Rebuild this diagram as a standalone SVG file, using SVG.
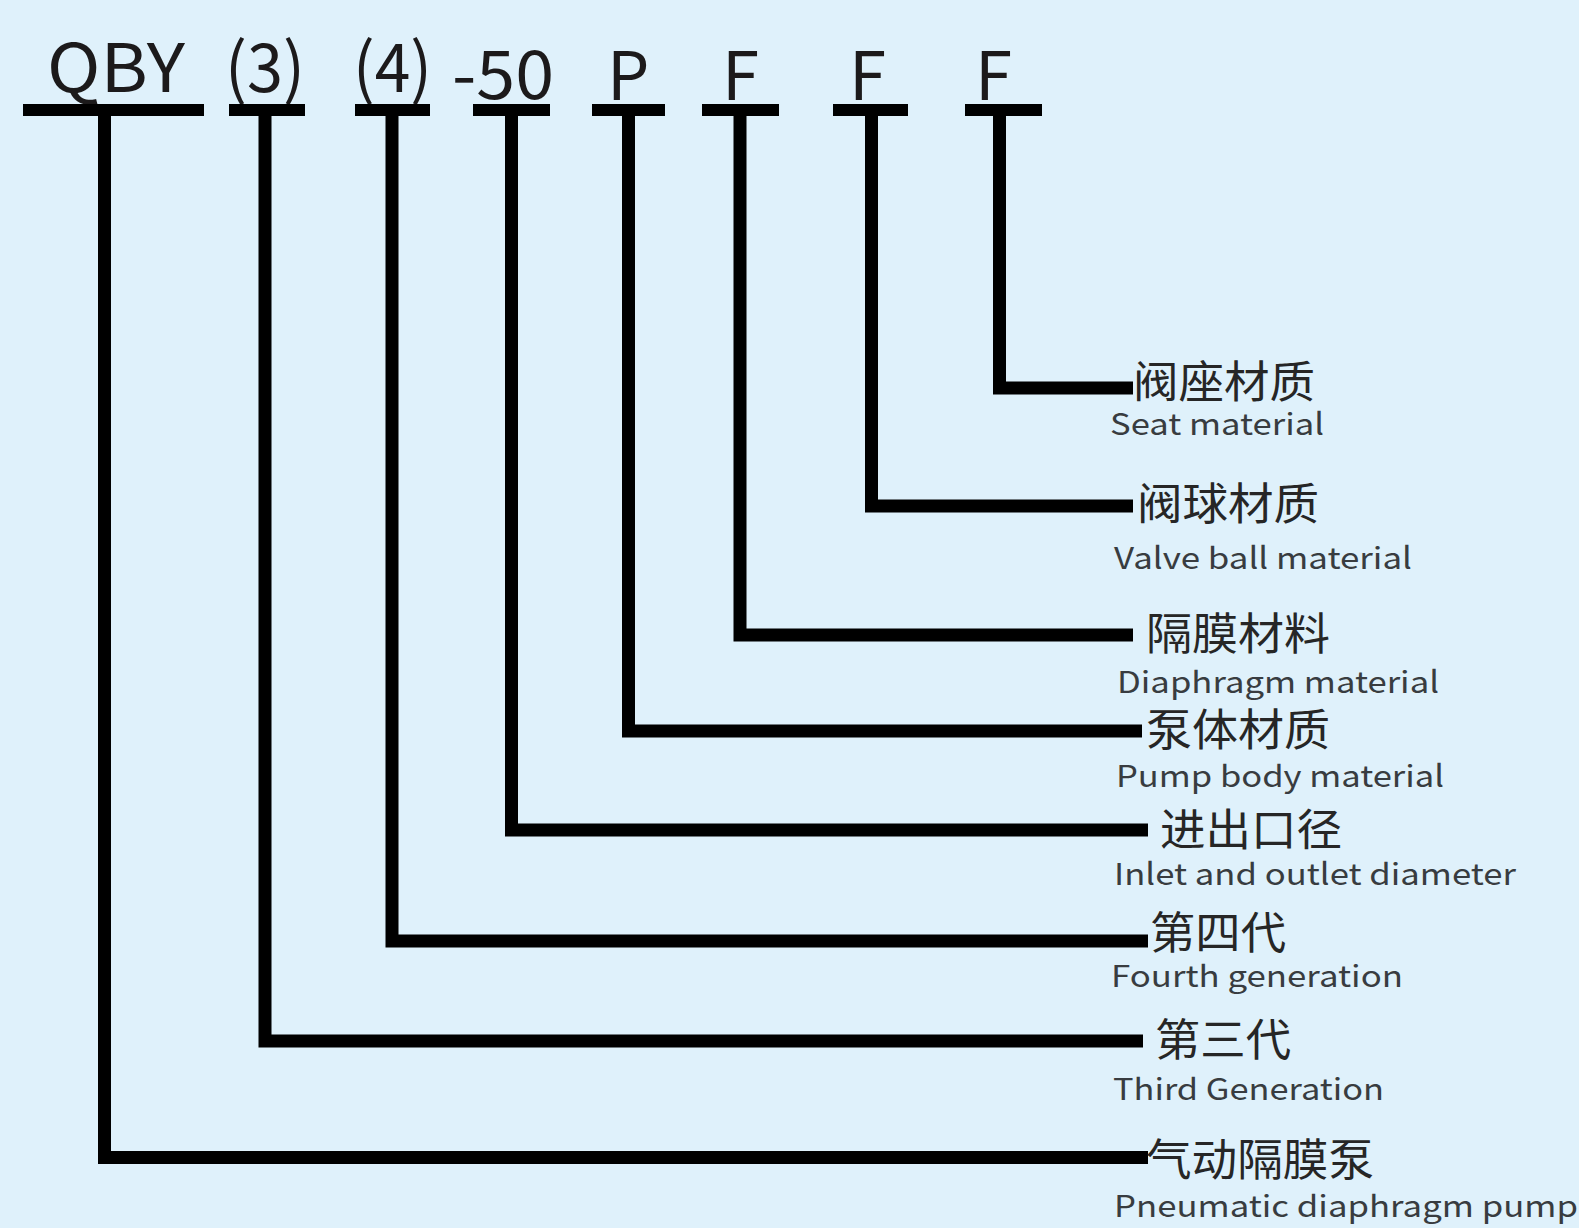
<svg xmlns="http://www.w3.org/2000/svg" width="1579" height="1228" viewBox="0 0 1579 1228">
<style>
.code{font-family:"Noto Sans CJK SC","Noto Sans",sans-serif;font-size:67px;fill:#1c1a1b}
.zh{font-family:"Noto Sans CJK SC","Noto Sans",sans-serif;font-size:44px;fill:#262626}
.en{font-family:"Noto Sans CJK SC","Noto Sans",sans-serif;font-size:30px;fill:#383c40}
.bar{fill:#000}
.conn{fill:none;stroke:#000;stroke-width:13;stroke-linejoin:miter;stroke-linecap:butt}
</style>
<rect width="1579" height="1228" fill="#dff1fb"/>
<g id="connectors">
<path class="conn" d="M104.5 110 V1157.5 H1148"/>
<path class="conn" d="M265 110 V1041 H1143"/>
<path class="conn" d="M392 110 V941 H1148"/>
<path class="conn" d="M511.5 110 V830 H1148"/>
<path class="conn" d="M628.5 110 V731 H1142"/>
<path class="conn" d="M740 110 V635 H1133"/>
<path class="conn" d="M871.5 110 V506 H1133"/>
<path class="conn" d="M999.5 110 V388 H1133"/>
</g>
<g id="code-QBY"><text class="code" x="47" y="92" textLength="138" lengthAdjust="spacingAndGlyphs">QBY</text><rect class="bar" x="23" y="104" width="181" height="12"/></g>
<g id="code-3"><text class="code" x="225" y="92" textLength="80" lengthAdjust="spacingAndGlyphs">(3)</text><rect class="bar" x="229" y="104" width="76" height="12"/></g>
<g id="code-4"><text class="code" x="353" y="92" textLength="79" lengthAdjust="spacingAndGlyphs">(4)</text><rect class="bar" x="355" y="104" width="75" height="12"/></g>
<g id="code-50"><text class="code" x="452" y="99" textLength="102" lengthAdjust="spacingAndGlyphs">-50</text><rect class="bar" x="473" y="104" width="77" height="12"/></g>
<g id="code-P"><text class="code" x="607" y="100">P</text><rect class="bar" x="592" y="104" width="73" height="12"/></g>
<g id="code-F1"><text class="code" x="722" y="100">F</text><rect class="bar" x="702" y="104" width="77" height="12"/></g>
<g id="code-F2"><text class="code" x="849" y="100">F</text><rect class="bar" x="833" y="104" width="75" height="12"/></g>
<g id="code-F3"><text class="code" x="975" y="100">F</text><rect class="bar" x="965" y="104" width="77" height="12"/></g>
<g id="label-seat"><text class="zh" x="1133" y="398" textLength="182" lengthAdjust="spacingAndGlyphs">阀座材质</text><text class="en" x="1110" y="435" textLength="214" lengthAdjust="spacingAndGlyphs">Seat material</text></g>
<g id="label-ball"><text class="zh" x="1137" y="520" textLength="182" lengthAdjust="spacingAndGlyphs">阀球材质</text><text class="en" x="1114" y="569" textLength="298" lengthAdjust="spacingAndGlyphs">Valve ball material</text></g>
<g id="label-diaphragm"><text class="zh" x="1146" y="650" textLength="184" lengthAdjust="spacingAndGlyphs">隔膜材料</text><text class="en" x="1117" y="693" textLength="322" lengthAdjust="spacingAndGlyphs">Diaphragm material</text></g>
<g id="label-body"><text class="zh" x="1146" y="746" textLength="184" lengthAdjust="spacingAndGlyphs">泵体材质</text><text class="en" x="1116" y="787" textLength="328" lengthAdjust="spacingAndGlyphs">Pump body material</text></g>
<g id="label-port"><text class="zh" x="1160" y="846" textLength="182" lengthAdjust="spacingAndGlyphs">进出口径</text><text class="en" x="1114" y="885" textLength="402" lengthAdjust="spacingAndGlyphs">Inlet and outlet diameter</text></g>
<g id="label-fourth"><text class="zh" x="1150" y="949" textLength="136" lengthAdjust="spacingAndGlyphs">第四代</text><text class="en" x="1111" y="987" textLength="292" lengthAdjust="spacingAndGlyphs">Fourth generation</text></g>
<g id="label-third"><text class="zh" x="1155" y="1056" textLength="136" lengthAdjust="spacingAndGlyphs">第三代</text><text class="en" x="1113" y="1100" textLength="271" lengthAdjust="spacingAndGlyphs">Third Generation</text></g>
<g id="label-pump"><text class="zh" x="1146" y="1176" textLength="228" lengthAdjust="spacingAndGlyphs">气动隔膜泵</text><text class="en" x="1114" y="1217" textLength="464" lengthAdjust="spacingAndGlyphs">Pneumatic diaphragm pump</text></g>
</svg>
